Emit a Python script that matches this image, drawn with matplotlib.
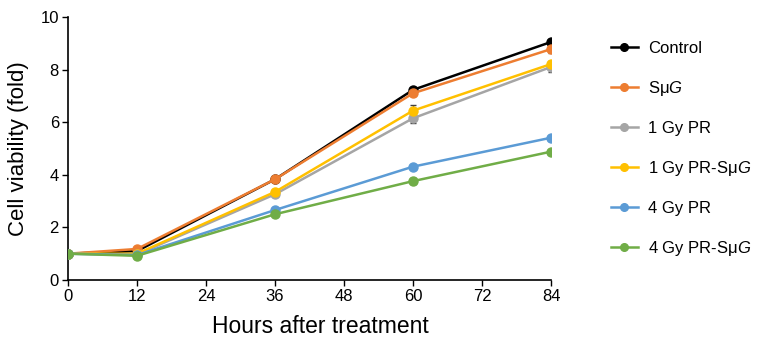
import matplotlib
matplotlib.use("Agg")
import matplotlib.pyplot as plt
from matplotlib.lines import Line2D

plt.rcParams['font.family'] = ['Liberation Sans', 'DejaVu Sans']
plt.rcParams['mathtext.fontset'] = 'custom'
plt.rcParams['mathtext.it'] = 'Liberation Sans:style=italic'
plt.rcParams['mathtext.rm'] = 'Liberation Sans'
plt.rcParams['mathtext.default'] = 'it'

hours = [0, 12, 36, 60, 84]
labels = ["Control", "Sμ$G$", "1 Gy PR", "1 Gy PR-Sμ$G$", "4 Gy PR", "4 Gy PR-Sμ$G$"]
control = [1.0, 1.1, 3.83, 7.23, 9.05]
sug = [1.0, 1.18, 3.83, 7.1, 8.78]
gy1 = [1.0, 0.97, 3.26, 6.15, 8.1]
gy1_sug = [1.0, 1.0, 3.35, 6.44, 8.21]
gy4 = [1.0, 0.95, 2.66, 4.31, 5.41]
gy4_sug = [1.0, 0.92, 2.5, 3.76, 4.88]
err_control = [0.0, 0.03, 0.05, 0.08, 0.08]
err_sug = [0.0, 0.03, 0.05, 0.08, 0.15]
err_gy1 = [0.0, 0.03, 0.07, 0.18, 0.2]
err_gy1_sug = [0.0, 0.03, 0.07, 0.2, 0.12]
err_gy4 = [0.0, 0.03, 0.08, 0.07, 0.05]
err_gy4_sug = [0.0, 0.03, 0.06, 0.1, 0.05]

series = [control, sug, gy1, gy1_sug, gy4, gy4_sug]
errs = [err_control, err_sug, err_gy1, err_gy1_sug, err_gy4, err_gy4_sug]
colors = ["#000000", "#ED7D31", "#A5A5A5", "#FFC000", "#5B9BD5", "#70AD47"]

fig = plt.figure(figsize=(7.65, 3.43), dpi=100)
ax = fig.add_axes([0.0889, 0.1837, 0.6314, 0.7667])

for vals, e, c, lab in zip(series, errs, colors, labels):
    ax.errorbar(hours, vals, yerr=e, fmt='none', ecolor='#404040', elinewidth=1.0,
                capsize=2, capthick=1.0, zorder=2)
    ax.plot(hours, vals, color=c, lw=1.8, marker='o', markersize=6.5, label=lab, zorder=3)

ax.set_xlim(0, 84)
ax.set_ylim(0, 10)
ax.set_xticks([0, 12, 24, 36, 48, 60, 72, 84])
ax.set_yticks([0, 2, 4, 6, 8, 10])
ax.spines['top'].set_visible(False)
ax.spines['right'].set_visible(False)
ax.spines['left'].set_linewidth(1.2)
ax.spines['bottom'].set_linewidth(1.2)
ax.tick_params(axis='both', labelsize=12, width=1.0, length=4, direction='out', pad=2.5)
ax.set_xlabel("Hours after treatment", fontsize=16.5)
ax.set_ylabel("Cell viability (fold)", fontsize=16)
ax.xaxis.set_label_coords(0.523, -0.135)
ax.yaxis.set_label_coords(-0.08, 0.5)
for s in ax.spines.values():
    s.set_clip_on(False)

handles = [Line2D([0], [0], color=c, lw=1.8, marker='o', markersize=5.5) for c in colors]
leg = fig.legend(handles, labels, loc='upper left', bbox_to_anchor=(0.779, 0.925),
                 frameon=False, fontsize=12, labelspacing=1.38, handlelength=1.6,
                 handletextpad=0.65)

fig.savefig("out.png", dpi=100)
